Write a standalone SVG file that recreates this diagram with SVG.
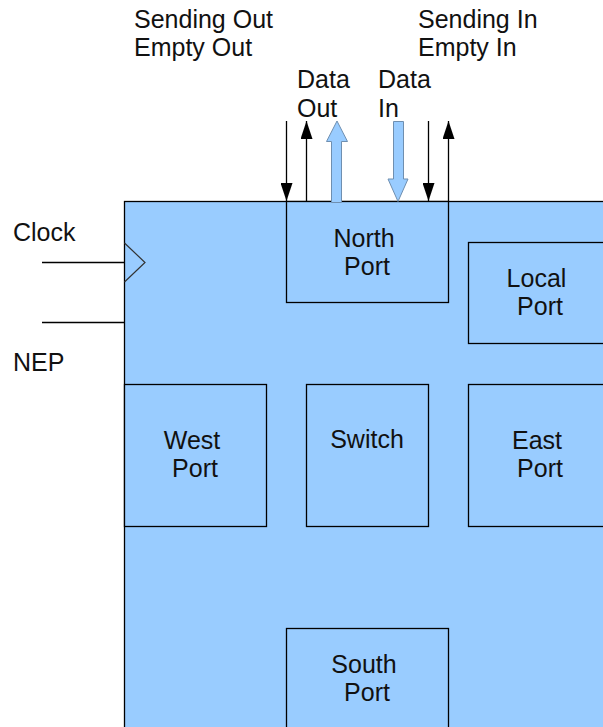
<svg xmlns="http://www.w3.org/2000/svg" width="603" height="727" viewBox="0 0 603 727">
<style>
text{font-family:"Liberation Sans",Arial,sans-serif;font-size:25px;fill:#111}
.c{text-anchor:middle}
.box{fill:#99ccff;stroke:#000;stroke-width:1.3}
.ln{stroke:#000;stroke-width:1.3;fill:none}
.blk{fill:#99ccff;stroke:#6f8fb0;stroke-width:1}
</style>
<defs>
<marker id="ah" viewBox="0 0 18 12" refX="18" refY="6" markerWidth="18" markerHeight="12" markerUnits="userSpaceOnUse" orient="auto">
<path d="M0,0 L18,6 L0,12 Z" fill="#000"/>
</marker>
</defs>
<rect width="603" height="727" fill="#fff"/>
<g id="chip">
<rect class="box" x="124.5" y="201.5" width="500" height="560"/>
<path d="M124.5,243 L145,262.5 L124.5,282" fill="none" stroke="#333" stroke-width="1.2"/>
</g>
<g id="north">
<rect class="box" x="286.5" y="201.5" width="162" height="101"/>
<text class="c" x="364" y="247">North</text>
<text class="c" x="367" y="275">Port</text>
</g>
<g id="local">
<rect class="box" x="468.5" y="242.5" width="150" height="101"/>
<text class="c" x="536.5" y="287">Local</text>
<text class="c" x="540" y="315">Port</text>
</g>
<g id="west">
<rect class="box" x="124.5" y="384.5" width="142" height="142"/>
<text class="c" x="192" y="449">West</text>
<text class="c" x="195" y="477">Port</text>
</g>
<g id="switch">
<rect class="box" x="306.5" y="384.5" width="122" height="142"/>
<text class="c" x="367" y="448">Switch</text>
</g>
<g id="east">
<rect class="box" x="468.5" y="384.5" width="150" height="142"/>
<text class="c" x="537" y="449">East</text>
<text class="c" x="540" y="477">Port</text>
</g>
<g id="south">
<rect class="box" x="286.5" y="628.5" width="162" height="120"/>
<text class="c" x="364" y="673">South</text>
<text class="c" x="367" y="701">Port</text>
</g>
<g id="connectors">
<line class="ln" x1="42" y1="262.5" x2="124.5" y2="262.5" stroke="#333"/>
<line class="ln" x1="42" y1="322.5" x2="124.5" y2="322.5" stroke="#333"/>
<line class="ln" x1="286.5" y1="121" x2="286.5" y2="201" marker-end="url(#ah)"/>
<line class="ln" x1="306.5" y1="201" x2="306.5" y2="121" marker-end="url(#ah)"/>
<line class="ln" x1="428.5" y1="121" x2="428.5" y2="201" marker-end="url(#ah)"/>
<line class="ln" x1="448.5" y1="201" x2="448.5" y2="121" marker-end="url(#ah)"/>
<path class="blk" d="M331.5,202.5 L331.5,141.5 L326.5,141.5 L337,121 L347.5,141.5 L341.5,141.5 L341.5,202.5 Z"/>
<path class="blk" d="M393.5,121.5 L403.5,121.5 L403.5,179 L408,179 L398,201.5 L388,179 L393.5,179 Z"/>
</g>
<g id="labels">
<text x="134" y="28">Sending Out</text>
<text x="134" y="56">Empty Out</text>
<text x="418" y="28">Sending In</text>
<text x="418" y="56">Empty In</text>
<text x="297" y="88">Data</text>
<text x="297" y="117">Out</text>
<text x="378" y="88">Data</text>
<text x="378" y="117">In</text>
<text x="13" y="241">Clock</text>
<text x="13" y="371">NEP</text>
</g>
</svg>
